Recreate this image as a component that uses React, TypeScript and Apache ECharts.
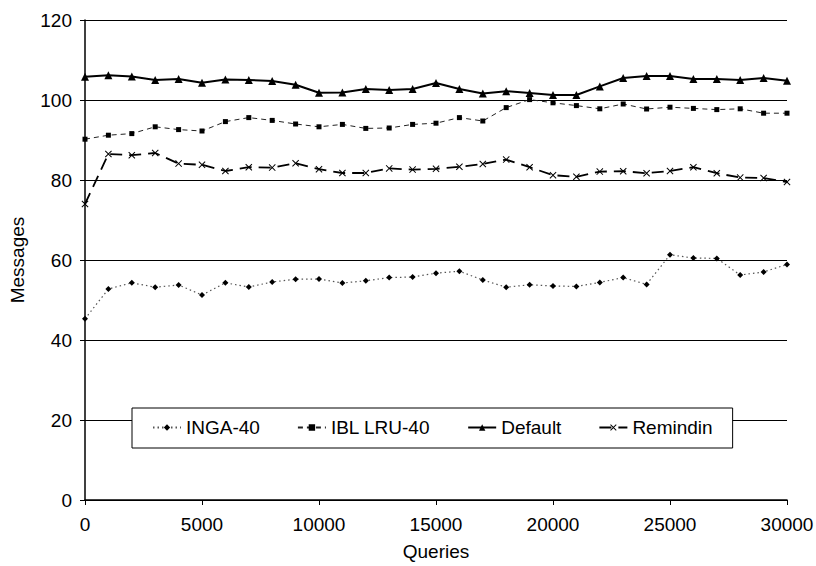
import React, { useEffect, useRef } from "react";
import * as echarts from "echarts";

const queries = [0, 1000, 2000, 3000, 4000, 5000, 6000, 7000, 8000, 9000, 10000, 11000, 12000, 13000, 14000, 15000, 16000, 17000, 18000, 19000, 20000, 21000, 22000, 23000, 24000, 25000, 26000, 27000, 28000, 29000, 30000];

const inga40 = [45.3, 52.75, 54.3, 53.2, 53.75, 51.25, 54.3, 53.25, 54.5, 55.2, 55.25, 54.25, 54.8, 55.6, 55.75, 56.7, 57.2, 55, 53.2, 53.8, 53.5, 53.4, 54.4, 55.6, 53.9, 61.3, 60.5, 60.4, 56.25, 57, 58.9];
const iblLru40 = [90.2, 91.2, 91.6, 93.3, 92.6, 92.25, 94.6, 95.6, 94.9, 94, 93.3, 93.9, 92.9, 93, 93.9, 94.2, 95.6, 94.75, 98.1, 100.1, 99.3, 98.6, 97.8, 99, 97.75, 98.2, 97.9, 97.6, 97.8, 96.7, 96.7];
const defaultSeries = [105.8, 106.2, 105.9, 105, 105.25, 104.3, 105.1, 105, 104.75, 103.8, 101.8, 101.9, 102.75, 102.5, 102.75, 104.25, 102.75, 101.6, 102.2, 101.75, 101.25, 101.25, 103.4, 105.5, 106, 106, 105.25, 105.25, 105, 105.5, 104.8];
const remindin = [74, 86.5, 86.2, 86.75, 84.1, 83.8, 82.25, 83.2, 83.1, 84.2, 82.7, 81.75, 81.75, 82.9, 82.6, 82.8, 83.3, 84, 85.1, 83.2, 81.2, 80.8, 82.1, 82.2, 81.7, 82.25, 83.2, 81.7, 80.6, 80.5, 79.5];

const seriesNames = ["INGA-40", "IBL LRU-40", "Default", "Remindin"];

const FONT = "'Liberation Sans', Arial, sans-serif";
const X_MARK = "path://M0,1L1,0L5,4L9,0L10,1L6,5L10,9L9,10L5,6L1,10L0,9L4,5Z";

function pairs(vals: number[]) {
  return queries.map((q, i) => [q, vals[i]]);
}

export default function App() {
  const ref = useRef<HTMLDivElement>(null);
  useEffect(() => {
    if (!ref.current) return;
    const chart = echarts.init(ref.current, null, { renderer: "svg" });
    chart.setOption({
      animation: false,
      backgroundColor: "#ffffff",
      textStyle: { fontFamily: FONT, color: "#000" },
      grid: { left: 85, right: 29, top: 20, bottom: 66, containLabel: false, outerBoundsMode: "none" },
      legend: {
        left: 132,
        top: 408,
        data: seriesNames,
        backgroundColor: "#ffffff",
        borderColor: "#000",
        borderWidth: 1,
        borderRadius: 0,
        padding: [10, 20, 11, 20],
        itemGap: 37,
        itemWidth: 28,
        itemHeight: 8,
        z: 10,
        textStyle: { fontFamily: FONT, fontSize: 19, color: "#000" },
      },
      xAxis: {
        type: "value",
        min: 0,
        max: 30000,
        interval: 5000,
        name: "Queries",
        nameLocation: "middle",
        nameGap: 42,
        nameTextStyle: { fontFamily: FONT, fontSize: 19, color: "#000" },
        axisLine: { show: true, onZero: false, lineStyle: { color: "#000", width: 1.5 } },
        axisTick: { show: true, inside: false, length: 5, lineStyle: { color: "#000" } },
        axisLabel: { fontFamily: FONT, fontSize: 19, color: "#000", margin: 15, formatter: (v: number) => String(v) },
        splitLine: { show: false },
      },
      yAxis: {
        type: "value",
        min: 0,
        max: 120,
        interval: 20,
        name: "Messages",
        nameLocation: "middle",
        nameRotate: 90,
        nameGap: 58,
        nameTextStyle: { fontFamily: FONT, fontSize: 19, color: "#000" },
        axisLine: { show: true, lineStyle: { color: "#000", width: 1.5 } },
        axisTick: { show: true, inside: false, length: 5, lineStyle: { color: "#000" } },
        axisLabel: { fontFamily: FONT, fontSize: 19, color: "#000", margin: 13 },
        splitLine: { show: true, lineStyle: { color: "#000", width: 1.2 } },
      },
      series: [
        {
          name: seriesNames[0],
          type: "line",
          data: pairs(inga40),
          symbol: "diamond",
          symbolSize: 6,
          itemStyle: { color: "#000" },
          lineStyle: { color: "#555", width: 1.2, type: [1.5, 3] },
        },
        {
          name: seriesNames[1],
          type: "line",
          data: pairs(iblLru40),
          symbol: "rect",
          symbolSize: 5,
          itemStyle: { color: "#000" },
          lineStyle: { color: "#222", width: 1, type: [5, 4] },
        },
        {
          name: seriesNames[2],
          type: "line",
          data: pairs(defaultSeries),
          symbol: "triangle",
          symbolSize: 8,
          itemStyle: { color: "#000" },
          lineStyle: { color: "#000", width: 2 },
        },
        {
          name: seriesNames[3],
          type: "line",
          data: pairs(remindin),
          symbol: X_MARK,
          symbolSize: 7,
          itemStyle: { color: "#000" },
          lineStyle: { color: "#000", width: 1.8, type: [12, 7] },
        },
      ],
    });
    return () => chart.dispose();
  }, []);
  return <div ref={ref} style={{ width: 816, height: 566, position: "absolute", left: 0, top: 0 }} />;
}
